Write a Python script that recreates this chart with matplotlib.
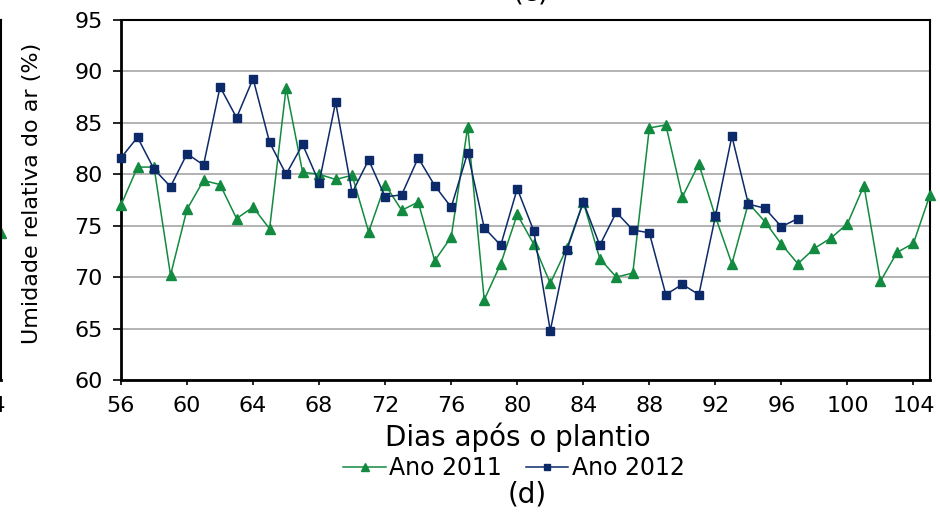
import matplotlib
matplotlib.use("Agg")
import matplotlib.pyplot as plt
import numpy as np

# ---- data ----
days_2011 = list(range(56, 106))
rh_2011 = [77.0, 80.7, 80.7, 70.2, 76.6, 79.4, 79.0, 75.7, 76.8, 74.7,
           88.4, 80.2, 80.0, 79.5, 79.9, 74.4, 79.0, 76.5, 77.3, 71.6,
           73.9, 84.6, 67.8, 71.3, 76.1, 73.2, 69.4, 72.8, 77.3, 71.8,
           70.0, 70.4, 84.5, 84.8, 77.8, 81.0, 75.9, 71.3, 77.2, 75.4,
           73.2, 71.3, 72.8, 73.8, 75.2, 78.9, 69.6, 72.4, 73.3, 78.0]
days_2012 = list(range(56, 98))
rh_2012 = [81.6, 83.6, 80.5, 78.8, 82.0, 80.9, 88.5, 85.5, 89.3, 83.1,
           80.0, 82.9, 79.2, 87.0, 78.2, 81.4, 77.8, 78.0, 81.6, 78.9,
           76.8, 82.1, 74.8, 73.1, 78.6, 74.5, 64.8, 72.6, 77.3, 73.1,
           76.3, 74.6, 74.3, 68.3, 69.3, 68.3, 75.9, 83.7, 77.1, 76.7,
           74.9, 75.7]
# neighbouring panel (only its last point is visible at the left edge)
days_prev = [105]
rh_prev = [74.3]

x_ticks = list(range(56, 105, 4))
y_ticks = list(range(60, 96, 5))
prev_x_ticks = [104]

series_labels = ["Ano 2011", "Ano 2012"]
xlabel = "Dias após o plantio"
ylabel = "Umidade relativa do ar (%)"

GREEN = "#128a3f"
NAVY = "#0c2a6a"
FONT = "DejaVu Sans"
plt.rcParams["font.family"] = [FONT]

W, H = 940, 512
fig = plt.figure(figsize=(W / 100, H / 100), dpi=100)

L, R, T, B = 121, 930, 20, 380
pos = [L / W, 1 - B / H, (R - L) / W, (B - T) / H]


def style_axes(ax):
    ax.set_xlim(56, 105)
    ax.set_ylim(60, 95)
    ax.set_xticks(x_ticks)
    ax.set_yticks(y_ticks)
    ax.yaxis.grid(True, color="#a6a6a6", linewidth=1.2)
    ax.set_axisbelow(True)
    for s in ["left", "bottom"]:
        ax.spines[s].set_linewidth(2.0)
    for s in ["top", "right"]:
        ax.spines[s].set_linewidth(1.5)
    ax.tick_params(axis="y", direction="out", length=6, width=1.2,
                   labelsize=16, pad=7)
    ax.tick_params(axis="x", direction="out", length=3.5, width=1.2,
                   labelsize=16, pad=8)


# left neighbouring panel (mostly outside the figure)
ax0 = fig.add_axes([(1 - (R - L)) / W, pos[1], pos[2], pos[3]])
style_axes(ax0)
ax0.set_xticks(prev_x_ticks)
ax0.tick_params(axis="y", labelleft=False)
ax0.plot(days_prev, rh_prev, color=GREEN, marker="^", markersize=7.5,
         linewidth=1.0, clip_on=False)

ax = fig.add_axes(pos)
style_axes(ax)
ax.plot(days_2011, rh_2011, color=GREEN, marker="^", markersize=7.5,
        linewidth=1.1, label=series_labels[0], clip_on=False, zorder=3)
ax.plot(days_2012, rh_2012, color=NAVY, marker="s", markersize=5.5,
        linewidth=1.1, label=series_labels[1], clip_on=False, zorder=4)

fig.text(518 / W, 1 - 437 / H, xlabel, ha="center", va="center", fontsize=20)
fig.text(32 / W, 1 - 193 / H, ylabel, ha="center", va="center",
         rotation=90, fontsize=16)

leg = fig.legend(loc="center", bbox_to_anchor=(514 / W, 1 - 468 / H),
                 ncol=2, frameon=False, fontsize=17, handlelength=1.8,
                 handletextpad=0.15, columnspacing=1.0, markerscale=0.8,
                 borderaxespad=0, borderpad=0)

fig.text(527 / W, 1 - 495 / H, "(d)", ha="center", va="center", fontsize=20)
fig.text(531 / W, 1.0, "(c)", ha="center", va="baseline", fontsize=20)

fig.savefig("out.png", dpi=100)
